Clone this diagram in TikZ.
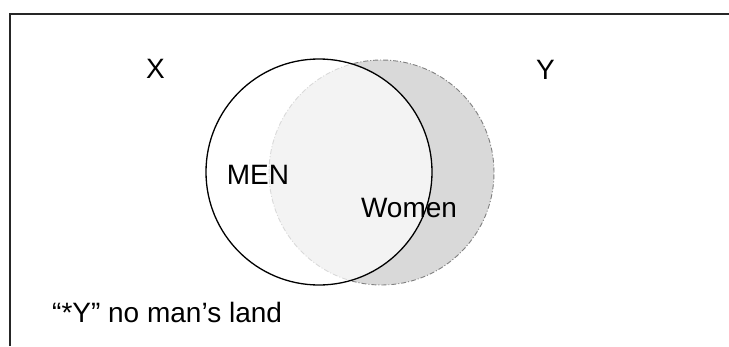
\documentclass[tikz,border=0pt]{standalone}
\usepackage{fontspec}
\setmainfont{Liberation Sans}
\begin{document}
\begin{tikzpicture}[x=1pt, y=-1pt,
    vennlabel/.style={anchor=base, inner sep=0pt, font=\fontsize{28}{32}\selectfont},
    womenset/.style={circle, minimum size=225pt, inner sep=0pt, fill=black!15, draw=black!50,
        line width=0.9pt, dash pattern=on 5pt off 2pt on 1pt off 2pt},
    menset/.style={circle, minimum size=226pt, inner sep=0pt, fill=white, fill opacity=0.7,
        draw=black, draw opacity=1, line width=1.3pt}]
    \useasboundingbox (0,0) rectangle (729,346);
    % frame, only top and left edges are visible
    \draw[line width=1.4pt, black!85] (10,346) -- (10,14) -- (729,14);
    % the two sets
    \node[womenset] (women) at (381.5,172.5) {};
    \node[menset] (men) at (319,172) {};
    \node[vennlabel] (x) at (155.5,78.3) {X};
    \node[vennlabel] (y) at (545.5,79) {Y};
    \node[vennlabel] (menlbl) at (258,184.3) {MEN};
    \node[vennlabel] (womenlbl) at (409,217.7) {Women};
    \node[vennlabel, anchor=base west] (nomans) at (52,322) {“*Y” no man’s land};
\end{tikzpicture}
\end{document}
